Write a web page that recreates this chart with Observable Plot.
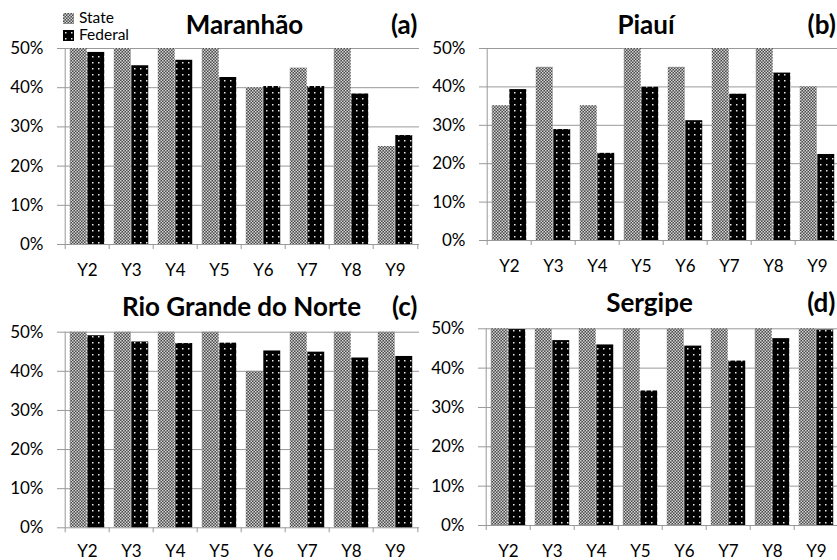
<!DOCTYPE html>
<html><head><meta charset="utf-8">
<script src="https://cdn.jsdelivr.net/npm/d3@7"></script>
<script src="https://cdn.jsdelivr.net/npm/@observablehq/plot@0.6"></script>
<style>
body{margin:0;background:#fff;}
#wrap{position:relative;width:837px;height:560px;overflow:hidden;background:#fff;font-family:Lato,sans-serif;}
.panel{position:absolute;}
.leg{position:absolute;font-size:15.5px;line-height:15px;height:15px;color:#000;white-space:nowrap;}
.leg svg{vertical-align:top;margin-right:5px;}
</style></head><body>
<svg width="0" height="0" style="position:absolute"><defs>
<pattern id="pState" width="3" height="3" patternUnits="userSpaceOnUse"><rect width="3" height="3" fill="#4a4a4a"/><rect width="1.5" height="1.5" fill="#d4d4d4"/><rect x="1.5" y="1.5" width="1.5" height="1.5" fill="#d4d4d4"/></pattern>
<pattern id="pFed" width="6" height="6" patternUnits="userSpaceOnUse"><rect width="6" height="6" fill="#000"/><rect x="2" y="2" width="1.5" height="1.5" fill="#e8e8e8"/></pattern>
</defs></svg>
<div id="wrap"></div>
<script>
const years = ["Y2","Y3","Y4","Y5","Y6","Y7","Y8","Y9"];
const yTicks = [0,10,20,30,40,50];
const seriesNames = ["State","Federal"];

const maranhaoState   = [50,50,50,50,40,45,50,25];
const maranhaoFederal = [49.0,45.6,47.0,42.6,40.3,40.3,38.4,27.8];
const piauiState      = [35.1,45.1,35.1,50,45.1,50,50,40.0];
const piauiFederal    = [39.3,28.9,22.7,39.9,31.2,38.1,43.6,22.4];
const rgnState        = [50,50,50,50,40,50,50,50];
const rgnFederal      = [49.1,47.5,47.1,47.2,45.2,44.9,43.4,43.8];
const sergipeState    = [50,50,50,50,50,50,50,50];
const sergipeFederal  = [49.8,47.0,45.9,34.2,45.6,41.8,47.5,49.7];

const wrap = document.getElementById("wrap");
const GRAY = "#999";

function panel({state, federal, title, tag, left, top, mt, mb, tdx, tdy, tagdx, xpad}) {
  const W = 420, H = 280, ml = 62, mr = 1;
  const bw = (W - ml - mr) / years.length;
  const rows = years.map((y, i) => ({year: y, state: state[i], federal: federal[i]}));
  const gap = bw * 0.107;
  const chart = Plot.plot({
    width: W, height: H, marginLeft: ml, marginRight: mr, marginTop: mt, marginBottom: mb,
    style: {fontFamily: "Lato, sans-serif", fontSize: "17px", color: "#000", background: "transparent", overflow: "visible"},
    x: {domain: years, padding: 0, axis: null},
    y: {domain: [0, 50], axis: null},
    marks: [
      Plot.ruleY(yTicks, {y: d => d, stroke: GRAY, strokeWidth: 1, insetLeft: -5}),
      Plot.barY(rows, {x: "year", y: "state", fill: "url(#pState)", insetLeft: gap, insetRight: bw / 2}),
      Plot.barY(rows, {x: "year", y: "federal", fill: "url(#pFed)", insetLeft: bw / 2, insetRight: gap}),
      Plot.ruleX([years[0]], {x: d => d, dx: -bw / 2, stroke: GRAY}),
      Plot.axisX({ticks: years, tickSize: 5, text: null, label: null, dx: -bw / 2, stroke: GRAY}),
      Plot.axisX({ticks: [years[years.length - 1]], tickSize: 5, text: null, label: null, dx: bw / 2, stroke: GRAY}),
      Plot.axisY({ticks: yTicks, tickSize: 0, tickPadding: 19, label: null, tickFormat: d => d + "%", fontSize: 17, fill: "#000"}),
      Plot.axisX({ticks: years, tickSize: 0, tickPadding: xpad, label: null, fontSize: 17, fill: "#000"}),
      Plot.text([title], {text: d => d, frameAnchor: "top", textAnchor: "middle", lineAnchor: "bottom", dx: tdx, dy: tdy, fontSize: 26, fontWeight: "bold", fill: "#000"}),
      Plot.text([tag], {text: d => d, frameAnchor: "top-right", textAnchor: "end", lineAnchor: "bottom", dx: tagdx, dy: tdy, fontSize: 26, fontWeight: "bold", fill: "#000"})
    ]
  });
  chart.classList.add("panel");
  chart.style.left = left + "px";
  chart.style.top = top + "px";
  wrap.appendChild(chart);
}

panel({state: maranhaoState, federal: maranhaoFederal, title: "Maranhão", tag: "(a)", left: 0, top: 0, mt: 48, mb: 36, tdx: 3.5, tdy: -15, tagdx: -2, xpad: 19});
panel({state: piauiState, federal: piauiFederal, title: "Piauí", tag: "(b)", left: 421.7, top: 0, mt: 48, mb: 40, tdx: -17, tdy: -15, tagdx: -5.7, xpad: 19});
panel({state: rgnState, federal: rgnFederal, title: "Rio Grande do Norte", tag: "(c)", left: 0, top: 280, mt: 51.7, mb: 32.7, tdx: 0.5, tdy: -16.7, tagdx: -2, xpad: 17});
panel({state: sergipeState, federal: sergipeFederal, title: "Sergipe", tag: "(d)", left: 421, top: 280, mt: 48.3, mb: 35, tdx: -12.5, tdy: -16.6, tagdx: -5, xpad: 19});

// legend
const fills = {State: "url(#pState)", Federal: "url(#pFed)"};
seriesNames.forEach((name, i) => {
  const d = document.createElement("div");
  d.className = "leg";
  d.style.left = "63px";
  d.style.top = (10 + i * 17) + "px";
  d.innerHTML = `<svg width="11" height="11" style="margin-top:3px"><rect width="11" height="11" fill="${fills[name]}"/></svg>${name}`;
  wrap.appendChild(d);
});
</script>
</body></html>
